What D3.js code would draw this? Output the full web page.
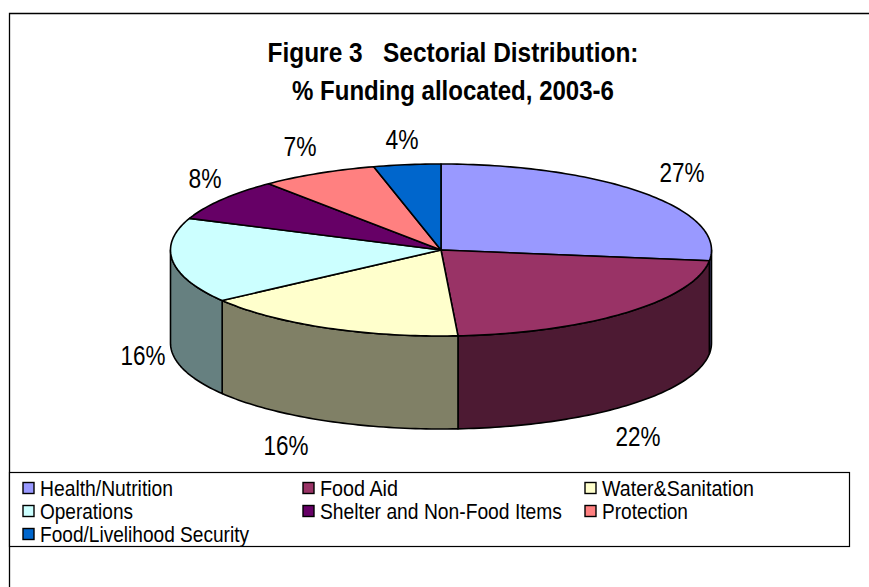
<!DOCTYPE html>
<html>
<head>
<meta charset="utf-8">
<script src="https://cdn.jsdelivr.net/npm/d3@7"></script>
<style>
  html, body { margin: 0; padding: 0; background: #fff; }
  svg { display: block; }
  text { font-family: "Liberation Sans", Arial, sans-serif; fill: #000; white-space: pre; }
</style>
</head>
<body>
<svg id="chart" width="869" height="587"></svg>
<script>
// Funding shares by sector, in percent
const sectors = ["Health/Nutrition", "Food Aid", "Water&Sanitation", "Operations",
                 "Shelter and Non-Food Items", "Protection", "Food/Livelihood Security"];
const shares = [27, 22, 16, 16, 8, 7, 4];
const topColours = ["#9999ff", "#993366", "#ffffcc", "#ccffff", "#660066", "#ff8080", "#0066cc"];
const wallColours = ["#4c4c80", "#4d1a33", "#808066", "#668080", "#330033", "#804040", "#003366"];
const titleLines = ["Figure 3   Sectorial Distribution:", "% Funding allocated, 2003-6"];

const svg = d3.select("#chart");

// Chart frame: open on the right and bottom where it runs off the page
svg.append("path")
  .attr("d", "M9.5,587V13.5H869")
  .attr("fill", "none").attr("stroke", "#000").attr("stroke-width", 1.3);

// Title
svg.append("g").selectAll("text").data(titleLines).join("text")
  .attr("x", 453).attr("y", (d, i) => 62 + i * 38)
  .attr("text-anchor", "middle")
  .attr("font-size", 28).attr("font-weight", "bold")
  .attr("textLength", (d, i) => [371, 322][i])
  .attr("lengthAdjust", "spacingAndGlyphs")
  .text(d => d);

// Tilted disc: the unit circle projected on to an ellipse
const px = d3.scaleLinear().domain([-1, 1]).range([170.5, 711.5]);
const py = d3.scaleLinear().domain([-1, 1]).range([164, 336]);
const depth = 93;

const pie = d3.pie().value(d => d).sort(null);
const slices = pie(shares);

const rim = (a) => [px(Math.sin(a)), py(-Math.cos(a))];
const outline = d3.line();
const sample = (a0, a1) => {
  const n = Math.max(2, Math.ceil(Math.abs(a1 - a0) / 0.02));
  return d3.range(n + 1).map(i => rim(a0 + (a1 - a0) * i / n));
};

// Walls of the disc: only the part of the rim facing the viewer is drawn
const frontStart = Math.PI / 2, frontEnd = 3 * Math.PI / 2;
const walls = svg.append("g");
slices.forEach((s, i) => {
  const a0 = Math.max(s.startAngle, frontStart), a1 = Math.min(s.endAngle, frontEnd);
  if (a1 <= a0) return;
  const upper = sample(a0, a1);
  const lower = upper.map(([x, y]) => [x, y + depth]).reverse();
  walls.append("path")
    .attr("d", outline(upper.concat(lower)) + "Z")
    .attr("fill", wallColours[i])
    .attr("stroke", "#000").attr("stroke-width", 1.6).attr("stroke-linejoin", "round");
});

// Top face of the disc
const centre = [px(0), py(0)];
svg.append("g").selectAll("path").data(slices).join("path")
  .attr("d", (s) => outline([centre, ...sample(s.startAngle, s.endAngle)]) + "Z")
  .attr("fill", (s, i) => topColours[i])
  .attr("stroke", "#000").attr("stroke-width", 1.6).attr("stroke-linejoin", "round");

// Percentage labels sit just outside the disc
const labelSpots = [[682, 172], [638, 436], [286, 445], [143, 355], [205, 178], [300, 146], [402, 139]];
const labelWidth = [45, 45, 45, 45, 33, 33, 33];
svg.append("g").selectAll("text").data(shares).join("text")
  .attr("x", (d, i) => labelSpots[i][0])
  .attr("y", (d, i) => labelSpots[i][1])
  .attr("dy", "0.36em")
  .attr("text-anchor", "middle")
  .attr("font-size", 28)
  .attr("textLength", (d, i) => labelWidth[i])
  .attr("lengthAdjust", "spacingAndGlyphs")
  .text(d => d + "%");

// Legend box with three columns of entries
svg.append("rect")
  .attr("x", 9.5).attr("y", 472.5).attr("width", 840).attr("height", 74)
  .attr("fill", "#fff").attr("stroke", "#000").attr("stroke-width", 1.2);

const columnX = [23, 303, 585];
const legendTextWidth = [133, 78, 152, 93, 242, 86, 209];
const entry = svg.append("g").selectAll("g").data(sectors).join("g")
  .attr("transform", (d, i) => `translate(${columnX[i % 3]},${488 + Math.floor(i / 3) * 23})`);
entry.append("rect")
  .attr("y", -5.5).attr("width", 11).attr("height", 11)
  .attr("fill", (d) => topColours[sectors.indexOf(d)])
  .attr("stroke", "#000").attr("stroke-width", 1.4);
entry.append("text")
  .attr("x", 17).attr("dy", "0.36em")
  .attr("font-size", 22)
  .attr("textLength", (d) => legendTextWidth[sectors.indexOf(d)])
  .attr("lengthAdjust", "spacingAndGlyphs")
  .text(d => d);
</script>
</body>
</html>
